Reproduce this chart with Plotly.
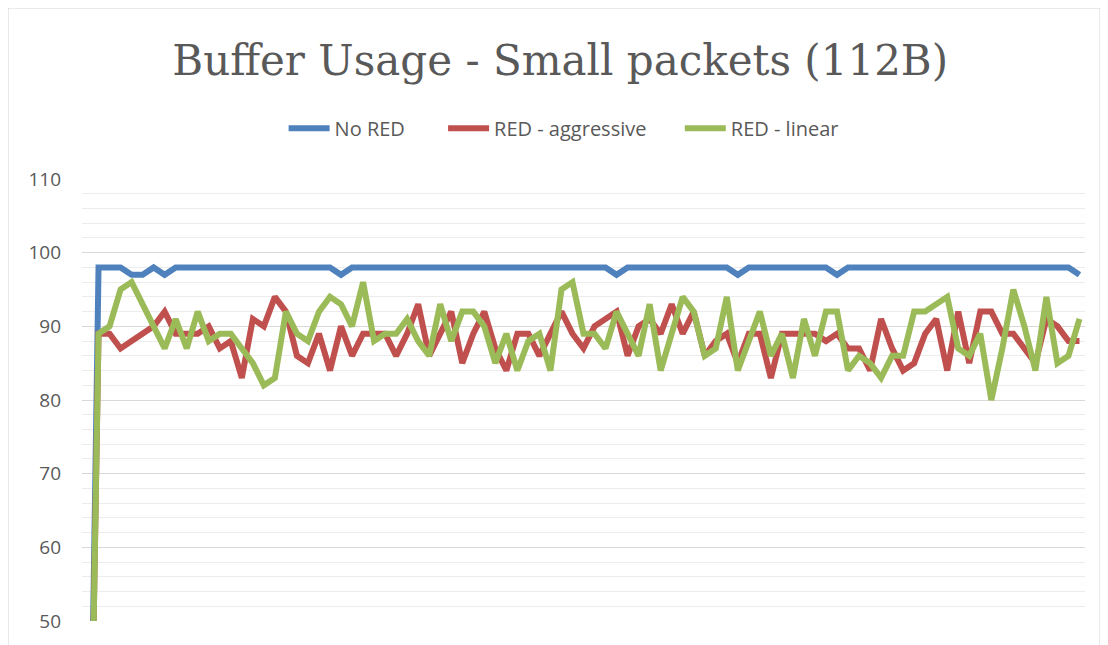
import plotly.graph_objects as go

# sample index (x axis, no labels shown in the chart)
samples = list(range(1, 92))

no_red = [0, 98, 98, 98, 97, 97, 98, 97, 98, 98,
          98, 98, 98, 98, 98, 98, 98, 98, 98, 98,
          98, 98, 98, 97, 98, 98, 98, 98, 98, 98,
          98, 98, 98, 98, 98, 98, 98, 98, 98, 98,
          98, 98, 98, 98, 98, 98, 98, 98, 97, 98,
          98, 98, 98, 98, 98, 98, 98, 98, 98, 97,
          98, 98, 98, 98, 98, 98, 98, 98, 97, 98,
          98, 98, 98, 98, 98, 98, 98, 98, 98, 98,
          98, 98, 98, 98, 98, 98, 98, 98, 98, 98,
          97]

red_aggressive = [0, 89, 89, 87, 88, 89, 90, 92, 89, 89,
                  89, 90, 87, 88, 83, 91, 90, 94, 92, 86,
                  85, 89, 84, 90, 86, 89, 89, 89, 86, 89,
                  93, 86, 89, 92, 85, 89, 92, 87, 84, 89,
                  89, 86, 89, 92, 89, 87, 90, 91, 92, 86,
                  90, 91, 89, 93, 89, 92, 86, 88, 89, 85,
                  89, 89, 83, 89, 89, 89, 89, 88, 89, 87,
                  87, 84, 91, 87, 84, 85, 89, 91, 84, 92,
                  85, 92, 92, 89, 89, 87, 85, 91, 90, 88,
                  88]

red_linear = [0, 89, 90, 95, 96, 93, 90, 87, 91, 87,
              92, 88, 89, 89, 87, 85, 82, 83, 92, 89,
              88, 92, 94, 93, 90, 96, 88, 89, 89, 91,
              88, 86, 93, 88, 92, 92, 90, 85, 89, 84,
              88, 89, 84, 95, 96, 89, 89, 87, 92, 89,
              86, 93, 84, 89, 94, 92, 86, 87, 94, 84,
              88, 92, 86, 89, 83, 91, 86, 92, 92, 84,
              86, 85, 83, 86, 86, 92, 92, 93, 94, 87,
              86, 89, 80, 87, 95, 90, 84, 94, 85, 86,
              91]

y_ticks = [50, 60, 70, 80, 90, 100, 110]

grey = '#595959'

fig = go.Figure()
fig.add_trace(go.Scatter(x=samples, y=no_red, name='No RED', mode='lines',
                         line=dict(color='#4F81BD', width=6), legend='legend'))
fig.add_trace(go.Scatter(x=samples, y=red_aggressive, name='RED - aggressive', mode='lines',
                         line=dict(color='#C0504D', width=6), legend='legend2'))
fig.add_trace(go.Scatter(x=samples, y=red_linear, name='RED - linear', mode='lines',
                         line=dict(color='#9BBB59', width=6), legend='legend3'))

legend_style = dict(orientation='h', xanchor='left', y=1.115, yanchor='middle',
                    font=dict(size=20, color=grey), bgcolor='rgba(0,0,0,0)', itemwidth=41)

# page body has an 8px margin, so the figure is drawn 8px smaller
fig.update_layout(
    width=1100, height=637,
    margin=dict(l=74, r=23, t=171, b=24),
    paper_bgcolor='white', plot_bgcolor='white',
    font=dict(family='Open Sans', color=grey),
    title=dict(text='Buffer Usage - Small packets (112B)', x=0.502, xref='container',
               y=0.918, yanchor='middle',
               font=dict(family='DejaVu Serif', size=42, color=grey)),
    showlegend=True,
    legend=dict(x=0.201, **legend_style),
    legend2=dict(x=0.360, **legend_style),
    legend3=dict(x=0.596, **legend_style),
)
fig.update_xaxes(range=[0.5, 91.5], showticklabels=False, showgrid=False,
                 zeroline=False, showline=False, ticks='')
fig.update_yaxes(range=[50, 110], tickvals=y_ticks, showgrid=True, gridcolor='#d9d9d9',
                 gridwidth=1, zeroline=False, showline=False, ticks='',
                 ticklabelstandoff=20, tickfont=dict(size=19, color=grey),
                 minor=dict(dtick=2, showgrid=True, gridcolor='#ececec', gridwidth=1))

# chart frame
fig.add_shape(type='rect', xref='paper', yref='paper', x0=-0.0738, x1=1.015,
              y0=-0.2, y1=1.387, line=dict(color='#d0d0d0', width=1), layer='below')

fig.write_html('out.html')
